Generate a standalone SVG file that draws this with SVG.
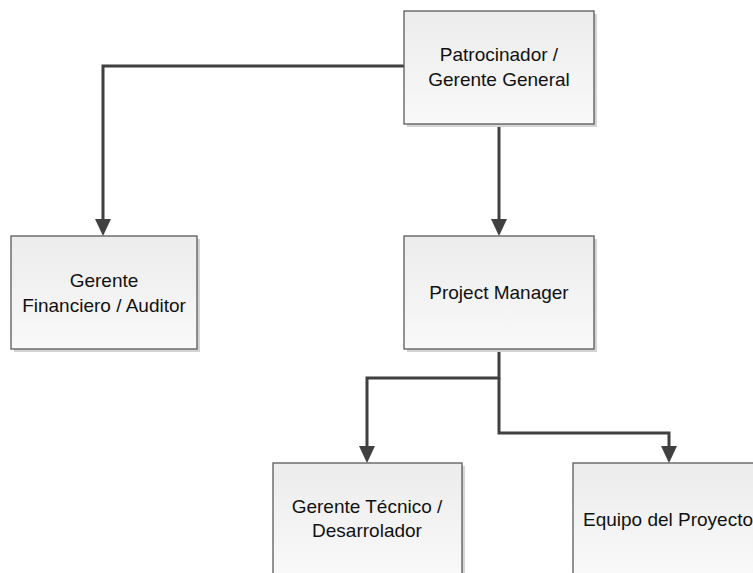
<svg xmlns="http://www.w3.org/2000/svg" width="753" height="573" viewBox="0 0 753 573">
  <defs>
    <linearGradient id="boxFill" x1="0" y1="0" x2="0" y2="1">
      <stop offset="0" stop-color="#ececec"/>
      <stop offset="1" stop-color="#f9f9f9"/>
    </linearGradient>
  </defs>
  <style>
    .shadow { fill: #d4d4d4; }
    .box { fill: url(#boxFill); stroke: #5a5a5a; stroke-width: 1.3; }
    .label { font-family: "Liberation Sans", Arial, sans-serif; font-size: 19px; fill: #111111; text-anchor: middle; }
    .conn { fill: none; stroke: #404040; stroke-width: 3; }
    .head { fill: #404040; }
  </style>
  <rect width="753" height="573" fill="#ffffff"/>

  <g id="connectors">
    <polyline class="conn" points="404,66 103,66 103,220"/>
    <line class="conn" x1="499" y1="124" x2="499" y2="220"/>
    <polyline class="conn" points="499,349 499,378 367,378 367,447"/>
    <polyline class="conn" points="499,378 499,433 669,433 669,447"/>
    <path class="head" d="M95,219 L111,219 L103,236 Z"/>
    <path class="head" d="M491,219 L507,219 L499,236 Z"/>
    <path class="head" d="M359,446 L375,446 L367,463 Z"/>
    <path class="head" d="M661,446 L677,446 L669,463 Z"/>
  </g>

  <g id="patrocinador">
    <rect class="shadow" x="407" y="14" width="190" height="113"/>
    <rect class="box" x="404" y="11" width="190" height="113"/>
    <text class="label" x="499" y="61">Patrocinador /</text>
    <text class="label" x="499" y="86">Gerente General</text>
  </g>

  <g id="gerente-financiero">
    <rect class="shadow" x="14" y="239" width="186" height="113"/>
    <rect class="box" x="11" y="236" width="186" height="113"/>
    <text class="label" x="104" y="287">Gerente</text>
    <text class="label" x="104" y="312">Financiero / Auditor</text>
  </g>

  <g id="project-manager">
    <rect class="shadow" x="407" y="239" width="190" height="113"/>
    <rect class="box" x="404" y="236" width="190" height="113"/>
    <text class="label" x="499" y="299">Project Manager</text>
  </g>

  <g id="gerente-tecnico">
    <rect class="shadow" x="276" y="466" width="189" height="113"/>
    <rect class="box" x="273" y="463" width="189" height="113"/>
    <text class="label" x="367" y="513">Gerente Técnico /</text>
    <text class="label" x="367" y="537">Desarrolador</text>
  </g>

  <g id="equipo-proyecto">
    <rect class="shadow" x="576" y="466" width="190" height="113"/>
    <rect class="box" x="573" y="463" width="190" height="113"/>
    <text class="label" x="668" y="526">Equipo del Proyecto</text>
  </g>
</svg>
